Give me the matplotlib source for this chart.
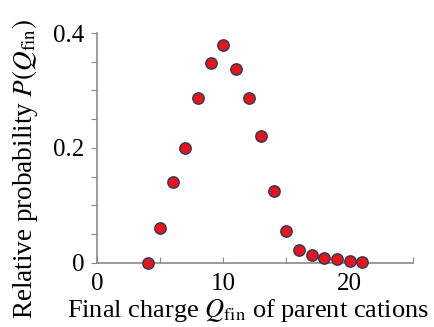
import matplotlib
matplotlib.use("Agg")
import matplotlib.pyplot as plt
import numpy as np

# Final charge distribution of parent cations
charge = [4, 5, 6, 7, 8, 9, 10, 11, 12, 13, 14, 15, 16, 17, 18, 19, 20, 21]
prob = [0.0, 0.061, 0.141, 0.200, 0.287, 0.347, 0.380, 0.337, 0.287, 0.221,
        0.125, 0.056, 0.023, 0.013, 0.008, 0.006, 0.004, 0.001]

plt.rcParams['font.family'] = 'Liberation Serif'
plt.rcParams['mathtext.fontset'] = 'stix'

fig = plt.figure(figsize=(4.35, 3.27), dpi=100)
ax = fig.add_axes([0.223, 0.196, 0.726, 0.703])

ax.plot(charge, prob, 'o', ms=8.2, mfc='#e8141c', mec='#263c5a', mew=1.0,
        clip_on=False, zorder=3)

ax.set_xlim(0, 25)
ax.set_ylim(0, 0.4)
ax.set_xticks([0, 5, 10, 15, 20, 25])
ax.set_xticklabels(['0', '', '10', '', '20', ''])
ax.set_yticks([0, 0.05, 0.1, 0.15, 0.2, 0.25, 0.3, 0.35, 0.4])
ax.set_yticklabels(['0', '', '', '', '0.2', '', '', '', '0.4'])

for s in ['top', 'right']:
    ax.spines[s].set_visible(False)
for s in ['left', 'bottom']:
    ax.spines[s].set_color('#8a8a8a')
    ax.spines[s].set_linewidth(1.2)

ax.tick_params(axis='x', direction='in', length=4, color='#8a8a8a',
               labelsize=18, pad=7)
ax.tick_params(axis='y', direction='out', length=4, color='#8a8a8a',
               labelsize=18, pad=5)

ax.set_xlabel(r'Final charge $Q_{\rm fin}$ of parent cations', fontsize=19)
ax.xaxis.set_label_coords(0.478, -0.15)
ax.set_ylabel(r'Relative probability $P(Q_{\rm fin})$', fontsize=19.5)
ax.yaxis.set_label_coords(-0.18, 0.41)

fig.savefig('out.png', dpi=100)
